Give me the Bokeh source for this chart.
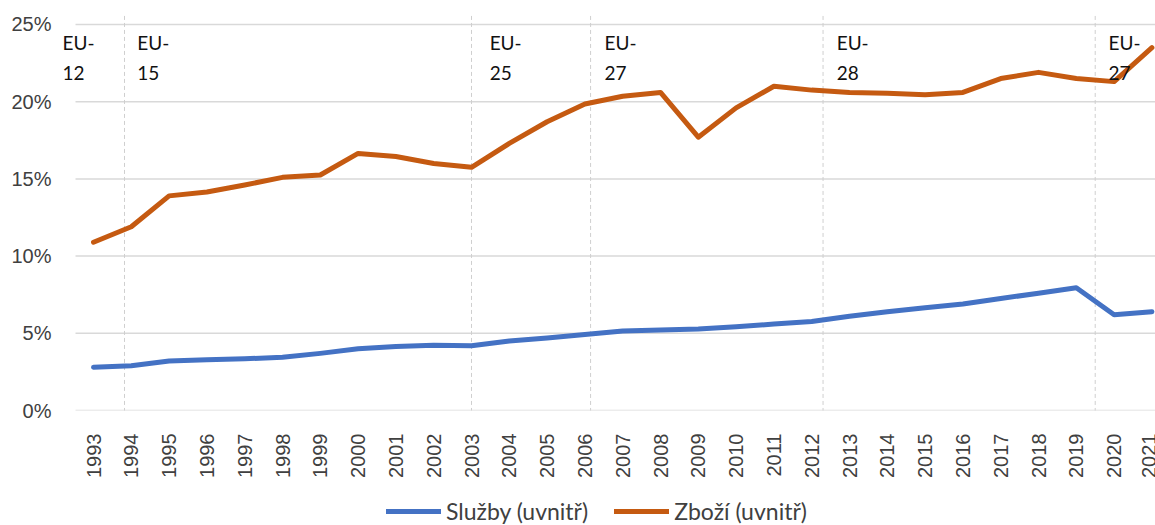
import math
from bokeh.plotting import figure
from bokeh.layouts import column
from bokeh.models import FixedTicker, Range1d, Legend, LegendItem, Label
from bokeh.embed import file_html
from bokeh.resources import INLINE

# ---- data ----
years = list(range(1993, 2022))
sluzby = [2.8, 2.9, 3.2, 3.28, 3.35, 3.45, 3.7, 4.0, 4.15, 4.22, 4.2, 4.5, 4.7, 4.92,
          5.15, 5.22, 5.28, 5.42, 5.6, 5.76, 6.1, 6.4, 6.65, 6.9, 7.25, 7.6, 7.95, 6.2, 6.4]
zbozi = [10.9, 11.9, 13.9, 14.15, 14.6, 15.1, 15.25, 16.65, 16.45, 16.0, 15.75, 17.3, 18.7, 19.85,
         20.35, 20.6, 17.7, 19.6, 21.0, 20.75, 20.6, 20.55, 20.45, 20.6, 21.5, 21.9, 21.5, 21.3, 23.5]
series_names = ["Služby (uvnitř)", "Zboží (uvnitř)"]
y_ticks = [0, 5, 10, 15, 20, 25]
y_tick_labels = ["0%", "5%", "10%", "15%", "20%", "25%"]
x_tick_labels = [str(y) for y in years]
# EU enlargement markers: dashed line position, label text, label position
eu_lines = [1993.82, 2003.0, 2006.15, 2012.3, 2019.5]
eu_texts = [("EU-", "12"), ("EU-", "15"), ("EU-", "25"), ("EU-", "27"), ("EU-", "28"), ("EU-", "27")]
eu_text_x = [1992.18, 1994.16, 2003.48, 2006.52, 2012.66, 2019.85]

BLUE = "#4472C4"
ORANGE = "#C55A11"
TXT = "#404040"

X0, X1 = 1992.074, 2021.095      # visible x range
GRID_X0 = 1992.524               # where the plot area (gridlines) starts
Y1 = 25.712

p = figure(width=1155, height=485, output_backend="svg", toolbar_location=None,
           x_range=Range1d(X0, X1), y_range=Range1d(0, Y1),
           min_border_left=58, min_border_right=0, min_border_top=13, min_border_bottom=75)
p.outline_line_color = None
p.background_fill_color = "white"
p.border_fill_color = "white"

# grid: horizontal gridlines starting at the plot-area edge
p.xgrid.grid_line_color = None
p.ygrid.grid_line_color = None
p.segment(x0=[GRID_X0] * len(y_ticks), x1=[X1] * len(y_ticks), y0=y_ticks, y1=y_ticks,
          line_color="#d9d9d9", line_width=1.5)

# axes
p.yaxis.ticker = FixedTicker(ticks=y_ticks)
p.yaxis.major_label_overrides = {t: l for t, l in zip(y_ticks, y_tick_labels)}
p.xaxis.ticker = FixedTicker(ticks=years)
p.xaxis.major_label_overrides = {y: l for y, l in zip(years, x_tick_labels)}
p.xaxis.major_label_orientation = math.pi / 2
for ax in (p.xaxis, p.yaxis):
    ax.axis_line_color = None
    ax.major_tick_line_color = None
    ax.minor_tick_line_color = None
    ax.major_label_text_font = "Liberation Sans"
    ax.major_label_text_font_size = "20px"
    ax.major_label_text_color = TXT
p.yaxis.major_label_standoff = 1
p.xaxis.major_label_standoff = 17

# dashed vertical EU lines
p.segment(x0=eu_lines, x1=eu_lines, y0=[-1] * len(eu_lines), y1=[Y1] * len(eu_lines),
          line_color="#cfcfcf", line_width=1, line_dash="4 3")

# series
r1 = p.line(years, sluzby, line_color=BLUE, line_width=5, line_cap="round", line_join="round")
r2 = p.line(years, zbozi, line_color=ORANGE, line_width=5, line_cap="round", line_join="round")

# EU labels
for (t1, t2), xv in zip(eu_texts, eu_text_x):
    for t, yv in ((t1, 23.85), (t2, 21.85)):
        p.add_layout(Label(x=xv, y=yv, text=t, text_font="Lato", text_font_size="19px",
                           text_color="#111111", text_baseline="alphabetic", text_align="left"))

# legend strip (separate small figure under the chart)
pl = figure(width=1155, height=40, output_backend="svg", toolbar_location=None,
            x_range=Range1d(0, 1), y_range=Range1d(0, 1), min_border=0,
            x_axis_location=None, y_axis_location=None)
pl.outline_line_color = None
pl.grid.visible = False
l1 = pl.line(years, sluzby, line_color=BLUE, line_width=5, line_cap="round")
l2 = pl.line(years, zbozi, line_color=ORANGE, line_width=5, line_cap="round")
legend = Legend(items=[LegendItem(label=series_names[0], renderers=[l1]),
                       LegendItem(label=series_names[1], renderers=[l2])],
                orientation="horizontal", location=(328, 0),
                glyph_width=55, glyph_height=20, label_standoff=5, spacing=26,
                padding=0, margin=0, border_line_color=None, background_fill_alpha=0,
                label_text_font="Lato", label_text_font_size="23px", label_text_color=TXT)
pl.add_layout(legend)

layout = column(p, pl, spacing=0)
open("out.html", "w").write(file_html(layout, INLINE))
